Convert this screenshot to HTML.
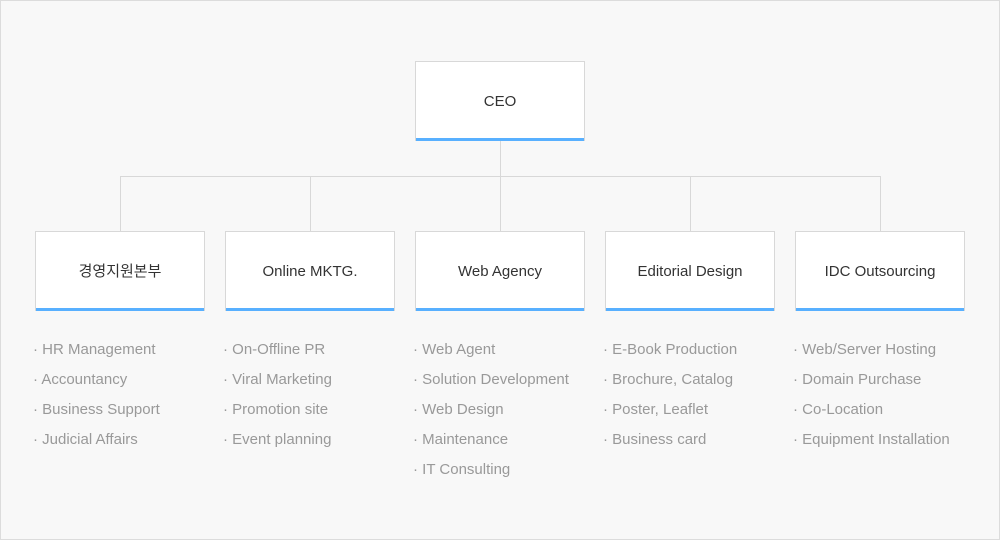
<!DOCTYPE html>
<html><head><meta charset="utf-8"><style>
body{margin:0;width:1000px;height:540px;background:#fff;font-family:"Liberation Sans","Noto Sans CJK KR",sans-serif;}
#w{position:absolute;left:0;top:0;width:998px;height:538px;border:1px solid #dcdcdc;background:#f8f8f8;}
.b{position:absolute;width:168px;height:79px;background:#fff;border:1px solid #d8d8d8;border-bottom:none;box-shadow:inset 0 -3px 0 #58b0ff;font-size:15px;color:#333;text-align:center;line-height:80px;}
.l{position:absolute;background:#d8d8d8;}
ul{position:absolute;margin:0;padding:0;list-style:none;font-size:15px;color:#999;top:340px;}
li{height:30px;line-height:20px;}
</style></head><body><div id="w"></div>
<div class="l" style="left:500px;top:140px;width:1px;height:36px"></div>
<div class="l" style="left:120px;top:176px;width:761px;height:1px"></div>
<div class="l" style="left:120px;top:176px;width:1px;height:55px"></div>
<div class="l" style="left:310px;top:176px;width:1px;height:55px"></div>
<div class="l" style="left:500px;top:176px;width:1px;height:55px"></div>
<div class="l" style="left:690px;top:176px;width:1px;height:55px"></div>
<div class="l" style="left:880px;top:176px;width:1px;height:55px"></div>
<div class="b" style="left:415px;top:61px">CEO</div>
<div class="b" style="left:35px;top:231px">경영지원본부</div>
<div class="b" style="left:225px;top:231px">Online MKTG.</div>
<div class="b" style="left:415px;top:231px">Web Agency</div>
<div class="b" style="left:605px;top:231px">Editorial Design</div>
<div class="b" style="left:795px;top:231px">IDC Outsourcing</div>
<ul style="left:33px"><li>· HR Management</li><li>· Accountancy</li><li>· Business Support</li><li>· Judicial Affairs</li></ul>
<ul style="left:223px"><li>· On-Offline PR</li><li>· Viral Marketing</li><li>· Promotion site</li><li>· Event planning</li></ul>
<ul style="left:413px"><li>· Web Agent</li><li>· Solution Development</li><li>· Web Design</li><li>· Maintenance</li><li>· IT Consulting</li></ul>
<ul style="left:603px"><li>· E-Book Production</li><li>· Brochure, Catalog</li><li>· Poster, Leaflet</li><li>· Business card</li></ul>
<ul style="left:793px"><li>· Web/Server Hosting</li><li>· Domain Purchase</li><li>· Co-Location</li><li>· Equipment Installation</li></ul>
</body></html>
